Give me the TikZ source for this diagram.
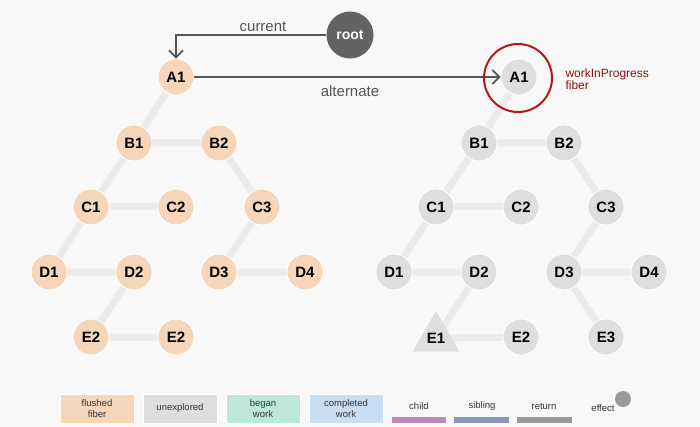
\documentclass[tikz,border=0pt]{standalone}
\usepackage{fontspec}
\setmainfont{Liberation Sans}
\usetikzlibrary{shapes.geometric,arrows.meta}
\pgfdeclarelayer{bg}
\pgfdeclarelayer{edges}
\pgfsetlayers{bg,edges,main}
\definecolor{bgc}{HTML}{F8F8F8}
\definecolor{peach}{HTML}{F5D6B8}
\definecolor{unexp}{HTML}{DEDEDE}
\definecolor{began}{HTML}{BDE8D9}
\definecolor{compl}{HTML}{C9DEF3}
\definecolor{edgec}{HTML}{EBEBEB}
\definecolor{arrc}{HTML}{555555}
\definecolor{rootc}{HTML}{636363}
\definecolor{wipred}{HTML}{B3181B}
\definecolor{wiptext}{HTML}{8E1111}
\definecolor{childc}{HTML}{B98BB6}
\definecolor{sibc}{HTML}{8A97B6}
\definecolor{retc}{HTML}{9A9A9A}
\begin{document}
\begin{tikzpicture}[x=1pt,y=-1pt,
  fib/.style={circle,minimum size=36pt,inner sep=0pt,fill=peach,draw=white,line width=0.8pt,font=\fontsize{15}{15}\selectfont\bfseries},
  gfib/.style={fib,fill=unexp},
  tri/.style={regular polygon,regular polygon sides=3,minimum size=54pt,inner sep=0pt,fill=unexp,font=\fontsize{15}{15}\selectfont\bfseries},
  tedge/.style={edgec,line width=7pt},
  ptr/.style={arrc,line width=1.8pt,-{Straight Barb[length=7pt,width=14pt,line width=1.8pt]}},
  lbl/.style={text=arrc,font=\fontsize{15}{15}\selectfont},
  legbox/.style={minimum width=74pt,minimum height=29pt,inner sep=0pt,draw=white,line width=0.8pt,align=center,text=black!80,font=\fontsize{9.5}{10.5}\selectfont},
  legtxt/.style={text=black!80,font=\fontsize{9.5}{10.5}\selectfont},
  legline/.style={line width=6pt}
]
\useasboundingbox (0,0) rectangle (700,427);
\begin{pgfonlayer}{bg}
\fill[bgc] (0,0) rectangle (700,427);
\end{pgfonlayer}

% left tree
\node[fib] (lA1) at (176,77) {A1};
\node[fib] (lB1) at (134,143) {B1};
\node[fib] (lB2) at (219,143) {B2};
\node[fib] (lC1) at (91,207) {C1};
\node[fib] (lC2) at (176,207) {C2};
\node[fib] (lC3) at (262,207) {C3};
\node[fib] (lD1) at (49,272) {D1};
\node[fib] (lD2) at (134,272) {D2};
\node[fib] (lD3) at (219,272) {D3};
\node[fib] (lD4) at (305,272) {D4};
\node[fib] (lE2a) at (91,337) {E2};
\node[fib] (lE2b) at (176,337) {E2};

% right tree
\node[gfib] (rA1) at (519,77) {A1};
\node[gfib] (rB1) at (479,143) {B1};
\node[gfib] (rB2) at (564,143) {B2};
\node[gfib] (rC1) at (436,207) {C1};
\node[gfib] (rC2) at (521,207) {C2};
\node[gfib] (rC3) at (606,207) {C3};
\node[gfib] (rD1) at (394,272) {D1};
\node[gfib] (rD2) at (479,272) {D2};
\node[gfib] (rD3) at (564,272) {D3};
\node[gfib] (rD4) at (649,272) {D4};
\node[tri] (rE1) at (436,338) {E1};
\node[gfib] (rE2) at (521,337) {E2};
\node[gfib] (rE3) at (606,337) {E3};

\begin{pgfonlayer}{edges}
\draw[tedge] (lA1.center) -- (lB1.center) -- (lC1.center) -- (lD1.center) -- (lD2.center) -- (lE2a.center) -- (lE2b.center);
\draw[tedge] (lB1.center) -- (lB2.center) -- (lC3.center) -- (lD3.center) -- (lD4.center);
\draw[tedge] (lC1.center) -- (lC2.center);
\draw[tedge] (rA1.center) -- (rB1.center) -- (rC1.center) -- (rD1.center) -- (rD2.center) -- (rE1.center) -- (rE2.center);
\draw[tedge] (rB1.center) -- (rB2.center) -- (rC3.center) -- (rD3.center) -- (rD4.center);
\draw[tedge] (rC1.center) -- (rC2.center);
\draw[tedge] (rD3.center) -- (rE3.center);
\end{pgfonlayer}

% root and pointers
\node[circle,minimum size=47pt,inner sep=0pt,fill=rootc,text=white,font=\fontsize{14}{14}\selectfont\bfseries] (root) at (350,35) {root};
\draw[ptr] (root.west) -| (lA1.north);
\draw[ptr] (lA1.east) -- (rA1.west);
\node[lbl] (lcur) at (263,27) {current};
\node[lbl] (lalt) at (350,91) {alternate};

% workInProgress marker
\node[circle,draw=wipred,line width=2pt,minimum size=68pt,inner sep=0pt] (wip) at (518,78) {};
\node[anchor=west,align=left,text=wiptext,font=\fontsize{12}{12.5}\selectfont] (wiptxt) at (562,79) {workInProgress\\fiber};

% legend
\node[legbox,fill=peach] (k1) at (97,408.5) {flushed\\fiber};
\node[legbox,fill=unexp] (k2) at (180,408.5) {unexplored};
\node[legbox,fill=began] (k3) at (263,408.5) {began\\work};
\node[legbox,fill=compl] (k4) at (346,408.5) {completed\\work};
\node[legtxt] (kc) at (419,406) {child};
\node[legtxt] (ks) at (482,406) {sibling};
\node[legtxt] (kr) at (544,406) {return};
\coordinate (c1a) at (392,420); \coordinate (c1b) at (446,420);
\coordinate (s1a) at (454,420); \coordinate (s1b) at (509,420);
\coordinate (r1a) at (517,420); \coordinate (r1b) at (572,420);
\draw[legline,childc] (c1a) -- (c1b);
\draw[legline,sibc] (s1a) -- (s1b);
\draw[legline,retc] (r1a) -- (r1b);
\node[legtxt] (ke) at (603,408) {effect};
\node[circle,fill=retc,minimum size=16pt,inner sep=0pt] (kec) at (623,399) {};
\end{tikzpicture}
\end{document}
